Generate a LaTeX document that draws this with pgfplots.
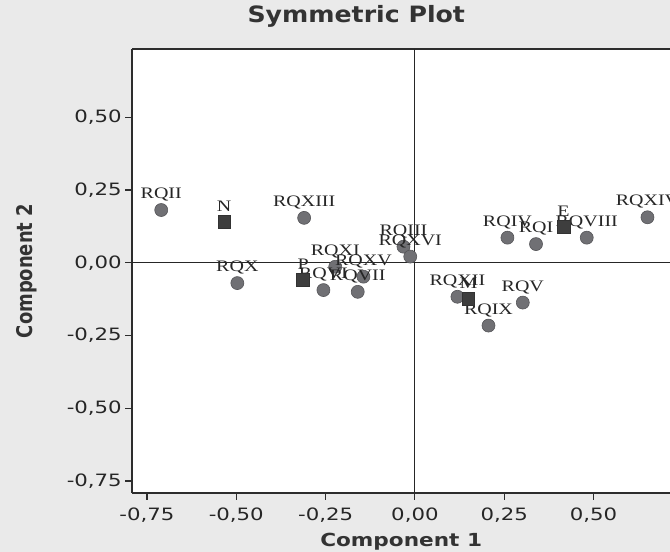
\documentclass[border=0pt]{standalone}
\usepackage{fontspec}
\usepackage{pgfplots}
\usepackage{pgfplotstable}
\pgfplotsset{compat=1.18}
\setmainfont{DejaVu Sans}
\newfontfamily\tickfont[FakeStretch=1.25]{DejaVu Sans}
\newfontfamily\titlefont[FakeStretch=1.12]{DejaVu Sans}
\newfontfamily\xlabfont[FakeStretch=1.2]{DejaVu Sans}
\newfontfamily\ylabfont[FakeStretch=0.83]{DejaVu Sans}
\newfontfamily\ptfont[FakeStretch=1.25]{Liberation Serif}

\definecolor{paper}{RGB}{234,234,234}
\definecolor{dotfill}{RGB}{112,112,116}
\definecolor{dotedge}{RGB}{85,85,88}
\definecolor{sqfill}{RGB}{62,62,62}
\definecolor{axisgray}{RGB}{45,45,45}

% row points
\pgfplotstableread{
x y label
-0.710 0.181 RQII
-0.310 0.154 RQXIII
-0.497 -0.070 RQX
-0.223 -0.014 RQXI
-0.256 -0.094 RQVI
-0.144 -0.048 RQXV
-0.160 -0.100 RQVII
-0.032 0.055 RQIII
-0.013 0.021 RQXVI
0.259 0.086 RQIV
0.339 0.064 RQI
0.481 0.086 RQVIII
0.651 0.156 RQXIV
0.119 -0.117 RQXII
0.302 -0.137 RQV
0.206 -0.216 RQIX
}\rowpts

% column points
\pgfplotstableread{
x y label
-0.534 0.140 N
-0.313 -0.059 P
0.416 0.124 E
0.150 -0.125 M
}\colpts

\begin{document}
\begin{tikzpicture}
\fill[paper] (-132.3pt,-59.3pt) rectangle (537.7pt,492.7pt);
\begin{axis}[
    at={(0,0)}, anchor=south west,
    scale only axis,
    width=537.7pt, height=443.4pt,
    xmin=-0.791, xmax=0.714,
    ymin=-0.790, ymax=0.733,
    axis lines*=left,
    axis line style={axisgray, line width=1.6pt},
    axis background/.style={fill=white},
    xtick={-0.75,-0.5,-0.25,0,0.25,0.5},
    ytick={-0.75,-0.5,-0.25,0,0.25,0.5},
    tick align=outside,
    major tick length=7pt,
    tick style={axisgray, line width=1.2pt},
    /pgf/number format/.cd, fixed, fixed zerofill, precision=2, use comma, assume math mode=true,
    /pgfplots/.cd,
    ticklabel style={font=\tickfont\fontsize{17}{17}\selectfont, text=black!85},
    xticklabel style={yshift=-5pt},
    title={Symmetric Plot},
    title style={at={(axis description cs:0.4166,1)}, anchor=base, yshift=21pt,
        font=\titlefont\bfseries\fontsize{22.5}{22.5}\selectfont, text=black!80},
    xlabel={Component 1},
    xlabel style={at={(axis description cs:0.5,0)}, anchor=base, yshift=-54pt,
        font=\xlabfont\bfseries\fontsize{18}{18}\selectfont, text=black!80},
    ylabel={Component 2},
    ylabel style={at={(axis description cs:0,0.5)}, anchor=center, yshift=106pt,
        font=\ylabfont\bfseries\fontsize{21.6}{21.6}\selectfont, text=black!80},
    clip=false,
]
\draw[axisgray, line width=1.6pt] (rel axis cs:0,1) -- (rel axis cs:1,1);
\draw[black!85, line width=1.1pt] (axis cs:0,-0.790) -- (axis cs:0,0.733);
\draw[black!85, line width=1.1pt] (axis cs:-0.791,0) -- (axis cs:0.714,0);

\addplot[only marks, mark=*, mark size=6.5pt,
    mark options={fill=dotfill, draw=dotedge, line width=0.6pt},
    nodes near coords, point meta=explicit symbolic,
    every node near coord/.style={anchor=center, yshift=15.5pt, inner sep=0pt,
        font=\ptfont\fontsize{16}{16}\selectfont, text=black!85}]
    table[meta=label] {\rowpts};

\addplot[only marks, mark=square*, mark size=6.3pt,
    mark options={fill=sqfill, draw=sqfill!80!black, line width=0.6pt},
    nodes near coords, point meta=explicit symbolic,
    every node near coord/.style={anchor=center, yshift=15.5pt, inner sep=0pt,
        font=\ptfont\fontsize{16}{16}\selectfont, text=black!85}]
    table[meta=label] {\colpts};
\end{axis}
\pgfresetboundingbox
\path (-132.3pt,-59.3pt) rectangle (537.7pt,492.7pt);
\end{tikzpicture}
\end{document}
